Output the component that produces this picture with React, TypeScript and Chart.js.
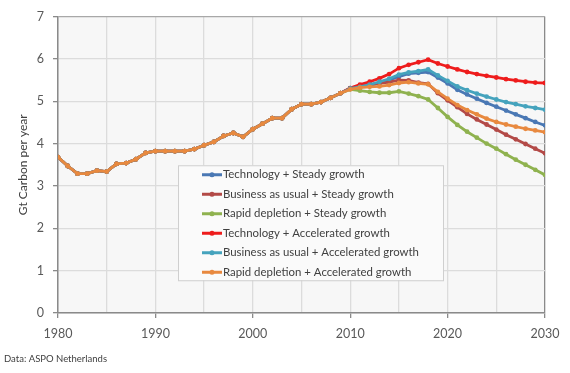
import React, { useEffect, useRef } from "react";
import { Chart, registerables } from "chart.js";

Chart.register(...registerables);

const historyYears = [1980, 1981, 1982, 1983, 1984, 1985, 1986, 1987, 1988, 1989, 1990, 1991, 1992, 1993, 1994, 1995, 1996, 1997, 1998, 1999, 2000, 2001, 2002, 2003, 2004, 2005, 2006, 2007, 2008, 2009];
const historyValues = [3.68, 3.47, 3.29, 3.29, 3.36, 3.34, 3.52, 3.54, 3.63, 3.78, 3.82, 3.82, 3.82, 3.82, 3.87, 3.96, 4.04, 4.18, 4.25, 4.16, 4.34, 4.47, 4.60, 4.60, 4.81, 4.93, 4.93, 4.98, 5.08, 5.19];

const projectionYears = [2010, 2011, 2012, 2013, 2014, 2015, 2016, 2017, 2018, 2019, 2020, 2021, 2022, 2023, 2024, 2025, 2026, 2027, 2028, 2029, 2030];

const techSteady = [5.30, 5.33, 5.37, 5.43, 5.50, 5.58, 5.65, 5.67, 5.69, 5.56, 5.42, 5.27, 5.16, 5.06, 4.96, 4.87, 4.78, 4.69, 4.60, 4.51, 4.43];
const bauSteady = [5.31, 5.36, 5.39, 5.42, 5.45, 5.50, 5.49, 5.44, 5.41, 5.19, 5.02, 4.86, 4.70, 4.57, 4.45, 4.33, 4.21, 4.10, 3.99, 3.88, 3.77];
const rapidSteady = [5.28, 5.25, 5.22, 5.20, 5.20, 5.23, 5.18, 5.12, 5.04, 4.84, 4.63, 4.44, 4.28, 4.14, 4.00, 3.88, 3.75, 3.62, 3.50, 3.38, 3.26];
const techAccel = [5.31, 5.39, 5.46, 5.54, 5.64, 5.78, 5.86, 5.92, 5.98, 5.89, 5.82, 5.75, 5.69, 5.64, 5.60, 5.56, 5.52, 5.49, 5.46, 5.44, 5.43];
const bauAccel = [5.30, 5.34, 5.39, 5.46, 5.53, 5.63, 5.68, 5.71, 5.75, 5.61, 5.48, 5.35, 5.26, 5.18, 5.11, 5.04, 4.98, 4.93, 4.88, 4.84, 4.80];
const rapidAccel = [5.28, 5.32, 5.34, 5.35, 5.38, 5.43, 5.45, 5.42, 5.40, 5.22, 5.06, 4.91, 4.79, 4.69, 4.59, 4.51, 4.45, 4.40, 4.35, 4.31, 4.27];

const seriesLabels = [
  "Technology + Steady growth",
  "Business as usual + Steady growth",
  "Rapid depletion + Steady growth",
  "Technology + Accelerated growth",
  "Business as usual + Accelerated growth",
  "Rapid depletion + Accelerated growth",
];
const seriesValues = [techSteady, bauSteady, rapidSteady, techAccel, bauAccel, rapidAccel];
const seriesColors = ["#4a78b4", "#b34a47", "#8fb24f", "#ee1c1c", "#45a3bd", "#e8893f"];

const yTicks = [0, 1, 2, 3, 4, 5, 6, 7];
const xLabelTicks = [1980, 1990, 2000, 2010, 2020, 2030];

const FONT = "Lato, 'Open Sans', sans-serif";

const decorPlugin = {
  id: "decor",
  beforeDraw(chart: any) {
    const { ctx, chartArea } = chart;
    ctx.save();
    ctx.fillStyle = "#f7f7f7";
    ctx.fillRect(chartArea.left, chartArea.top, chartArea.right - chartArea.left, chartArea.bottom - chartArea.top);
    ctx.restore();
  },
  afterDraw(chart: any) {
    const { ctx, chartArea } = chart;
    const w = chartArea.right - chartArea.left;
    const h = chartArea.bottom - chartArea.top;
    const bx = chartArea.left + w * 0.2464;
    const by = chartArea.top + h * 0.5017;
    const bw = 265;
    const bh = 115;
    ctx.save();
    ctx.fillStyle = "#fafafa";
    ctx.fillRect(bx, by, bw, bh);
    ctx.strokeStyle = "#cfcfcf";
    ctx.lineWidth = 1;
    ctx.strokeRect(bx + 0.5, by + 0.5, bw, bh);
    ctx.font = "11.4px " + FONT;
    ctx.textBaseline = "middle";
    ctx.textAlign = "left";
    seriesLabels.forEach((label, i) => {
      const y = by + 9.5 + i * 19.5;
      const color = seriesColors[i];
      ctx.strokeStyle = color;
      ctx.lineWidth = 3;
      ctx.beginPath();
      ctx.moveTo(bx + 24, y);
      ctx.lineTo(bx + 44, y);
      ctx.stroke();
      ctx.fillStyle = color;
      ctx.beginPath();
      ctx.arc(bx + 34, y, 2.5, 0, Math.PI * 2);
      ctx.fill();
      ctx.fillStyle = "#404040";
      ctx.fillText(label, bx + 45, y);
    });
    ctx.font = "9.5px " + FONT;
    ctx.fillStyle = "#404040";
    ctx.textBaseline = "alphabetic";
    ctx.fillText("Data: ASPO Netherlands", 4, 362);
    ctx.restore();
  },
};

export default function App() {
  const ref = useRef<HTMLCanvasElement>(null);
  useEffect(() => {
    document.body.style.margin = "0";
    const canvas = ref.current;
    if (!canvas) return;
    const datasets = seriesLabels.map((label, i) => {
      const pts = historyYears
        .map((yr, k) => ({ x: yr, y: historyValues[k] }))
        .concat(projectionYears.map((yr, k) => ({ x: yr, y: seriesValues[i][k] })));
      return {
        label,
        data: pts,
        borderColor: seriesColors[i],
        backgroundColor: seriesColors[i],
        borderWidth: 2.8,
        pointRadius: 2.4,
        pointBorderWidth: 0,
        pointBackgroundColor: seriesColors[i],
        tension: 0,
        order: 5 - i,
      };
    });
    const chart = new Chart(canvas, {
      type: "line",
      data: { datasets },
      plugins: [decorPlugin],
      options: {
        animation: false,
        responsive: false,
        maintainAspectRatio: false,
        layout: { padding: { left: 0, right: 25, top: 16, bottom: 0 } },
        plugins: { legend: { display: false }, tooltip: { enabled: false } },
        scales: {
          x: {
            type: "linear",
            min: 1980,
            max: 2030,
            afterFit(scale: any) {
              scale.height = 60;
            },
            ticks: {
              stepSize: 5,
              autoSkip: false,
              maxRotation: 0,
              padding: 8,
              color: "#595959",
              font: { size: 12.5, family: FONT },
              callback: (v: any) => (xLabelTicks.includes(Number(v)) ? String(v) : ""),
            },
            grid: {
              color: (c: any) => (c.tick && c.tick.value === 2030 ? "#8a8a8a" : "#dcdcdc"),
              lineWidth: 1.3,
              tickLength: 5,
              tickColor: (c: any) => (c.tick && xLabelTicks.includes(c.tick.value) ? "#8a8a8a" : "rgba(0,0,0,0)"),
            },
            border: { color: "#8a8a8a", width: 1.5 },
          },
          y: {
            min: 0,
            max: 7,
            afterFit(scale: any) {
              scale.width = 58;
            },
            afterBuildTicks(scale: any) {
              scale.ticks = yTicks.map((v) => ({ value: v }));
            },
            title: {
              display: true,
              text: "Gt Carbon per year",
              color: "#404040",
              font: { size: 12, family: FONT },
              padding: { top: 16, bottom: 0 },
            },
            ticks: {
              padding: 9,
              color: "#595959",
              font: { size: 12.5, family: FONT },
            },
            grid: {
              color: (c: any) => (c.tick && c.tick.value === 7 ? "#a8a8a8" : "#dcdcdc"),
              lineWidth: 1.3,
              tickLength: 5,
              tickColor: "#8a8a8a",
            },
            border: { color: "#8a8a8a", width: 1.5 },
          },
        },
      },
    });
    return () => chart.destroy();
  }, []);
  return (
    <div style={{ width: 570, height: 373, background: "#fff" }}>
      <canvas ref={ref} width={570} height={373} style={{ width: 570, height: 373, display: "block" }} />
    </div>
  );
}
